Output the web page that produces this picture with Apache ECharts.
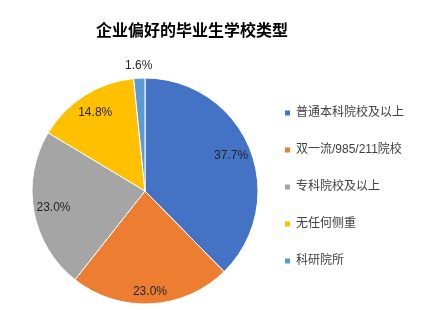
<!DOCTYPE html>
<html>
<head>
<meta charset="utf-8">
<script src="https://cdn.jsdelivr.net/npm/echarts@6/dist/echarts.min.js"></script>
<style>
html,body{margin:0;padding:0;background:#fff;}
#chart{width:439px;height:311px;}
</style>
</head>
<body>
<div id="chart"></div>
<script>
var titleText = '企业偏好的毕业生学校类型';
var categories = ['普通本科院校及以上', '双一流/985/211院校', '专科院校及以上', '无任何侧重', '科研院所'];
var values = [37.7, 23.0, 23.0, 14.8, 1.6];
var colors = ['#4472C4', '#ED7D31', '#A5A5A5', '#FFC000', '#5B9BD5'];

var FONT = '"Liberation Sans", "Noto Sans CJK SC", sans-serif';
var center = [145, 191];
var R = 113;

function makeData(labelFilter) {
  return categories.map(function (c, i) {
    var d = { name: c, value: values[i] };
    if (labelFilter) d.label = { show: labelFilter(i) };
    return d;
  });
}
function fmt(p) { return p.value.toFixed(1) + '%'; }

var chart = echarts.init(document.getElementById('chart'), null, { renderer: 'canvas' });
chart.setOption({
  animation: false,
  backgroundColor: '#fff',
  color: colors,
  title: {
    text: titleText,
    left: 91,
    top: 17,
    textStyle: { fontFamily: '"Noto Sans CJK SC", sans-serif', fontSize: 16, fontWeight: 'bold', color: '#000' }
  },
  legend: {
    orient: 'vertical',
    left: 278,
    top: 101,
    icon: 'rect',
    itemWidth: 7,
    itemHeight: 7,
    itemGap: 23,
    data: categories,
    textStyle: { fontFamily: FONT, fontSize: 12, color: '#404040', lineHeight: 14 }
  },
  series: [
    {
      type: 'pie',
      center: center,
      radius: [0, R],
      startAngle: 90,
      clockwise: true,
      silent: true,
      itemStyle: { borderColor: '#fff', borderWidth: 1 },
      label: { show: false },
      labelLine: { show: false },
      data: makeData()
    },
    {
      type: 'pie',
      center: center,
      radius: [67, R],
      startAngle: 90,
      clockwise: true,
      silent: true,
      legendHoverLink: false,
      itemStyle: { color: 'rgba(0,0,0,0)', borderWidth: 0 },
      label: { position: 'inside', formatter: fmt, fontFamily: FONT, fontSize: 12, color: '#262626' },
      labelLine: { show: false },
      labelLayout: function (p) { return p.dataIndex === 1 ? { dy: 8 } : {}; },
      data: makeData(function (i) { return i < 4; })
    },
    {
      type: 'pie',
      center: center,
      radius: [R, R + 18],
      startAngle: 90,
      clockwise: true,
      silent: true,
      legendHoverLink: false,
      itemStyle: { color: 'rgba(0,0,0,0)', borderWidth: 0 },
      label: { position: 'inside', formatter: fmt, fontFamily: FONT, fontSize: 12, color: '#262626' },
      labelLine: { show: false },
      data: makeData(function (i) { return i === 4; })
    }
  ]
});
</script>
</body>
</html>
